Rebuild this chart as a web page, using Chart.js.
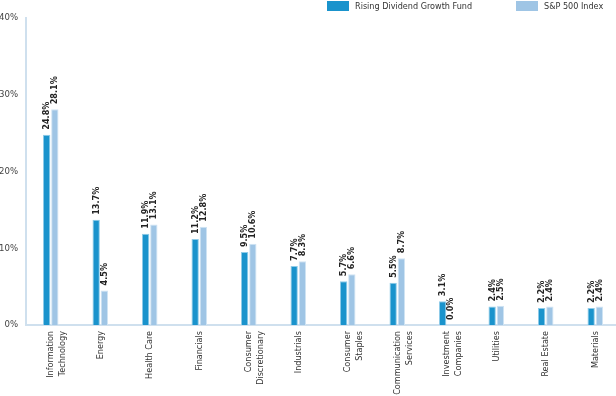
<!DOCTYPE html>
<html>
<head>
<meta charset="utf-8">
<script src="https://cdn.jsdelivr.net/npm/chart.js@4.4.1/dist/chart.umd.min.js"></script>
<style>
  html, body { margin: 0; padding: 0; background: #fff; }
  #wrap { width: 616px; height: 396px; overflow: hidden; }
</style>
</head>
<body>
<div id="wrap"><canvas id="sectorChart" width="620" height="396"></canvas></div>
<script>
const categories = [
  ["Information", "Technology"],
  "Energy",
  "Health Care",
  "Financials",
  ["Consumer", "Discretionary"],
  "Industrials",
  ["Consumer", "Staples"],
  ["Communication", "Services"],
  ["Investment", "Companies"],
  "Utilities",
  "Real Estate",
  "Materials",
];
const fundValues = [24.8, 13.7, 11.9, 11.2, 9.5, 7.7, 5.7, 5.5, 3.1, 2.4, 2.2, 2.2];
const indexValues = [28.1, 4.5, 13.1, 12.8, 10.6, 8.3, 6.6, 8.7, 0.0, 2.5, 2.4, 2.4];
const yTicks = [0, 10, 20, 30, 40];

const FONT = "'Liberation Sans Narrow', 'DejaVu Sans Condensed', 'Roboto', sans-serif";
const DARK = "#1a93cc";
const LIGHT = "#9fc5e5";
const AXIS = "#cfe0ee";

// draws rotated value labels above each bar
const valueLabels = {
  id: "valueLabels",
  afterDatasetsDraw(chart) {
    const ctx = chart.ctx;
    ctx.save();
    ctx.font = "bold 9px " + FONT;
    ctx.fillStyle = "#222";
    ctx.textAlign = "left";
    ctx.textBaseline = "middle";
    chart.data.datasets.forEach((ds, i) => {
      const meta = chart.getDatasetMeta(i);
      meta.data.forEach((bar, j) => {
        ctx.save();
        ctx.translate(bar.x, bar.y - 5);
        ctx.rotate(-Math.PI / 2);
        ctx.fillText(ds.data[j].toFixed(1) + "%", 0, 0);
        ctx.restore();
      });
    });
    ctx.restore();
  },
};

// simple legend in the top right corner
const topLegend = {
  id: "topLegend",
  afterDraw(chart) {
    const ctx = chart.ctx;
    const starts = [327, 516];
    ctx.save();
    ctx.font = "9px " + FONT;
    ctx.textBaseline = "middle";
    ctx.textAlign = "left";
    chart.data.datasets.forEach((ds, i) => {
      const x = starts[i];
      ctx.fillStyle = ds.backgroundColor;
      ctx.fillRect(x, 1, 22, 10);
      ctx.fillStyle = "#333";
      ctx.fillText(ds.label, x + 28, 6.5);
    });
    ctx.restore();
  },
};

const ctx = document.getElementById("sectorChart").getContext("2d");
new Chart(ctx, {
  type: "bar",
  data: {
    labels: categories,
    datasets: [
      {
        label: "Rising Dividend Growth Fund",
        data: fundValues,
        backgroundColor: DARK,
        borderColor: "#8fcbe8",
        borderWidth: 1,
        categoryPercentage: 0.33,
        barPercentage: 0.9,
      },
      {
        label: "S&P 500 Index",
        data: indexValues,
        backgroundColor: LIGHT,
        borderColor: "#cfe3f3",
        borderWidth: 1,
        categoryPercentage: 0.33,
        barPercentage: 0.9,
      },
    ],
  },
  options: {
    responsive: false,
    animation: false,
    devicePixelRatio: 1,
    layout: { padding: { top: 18, right: 0, bottom: 0, left: 0 } },
    scales: {
      x: {
        grid: { display: false, drawTicks: false },
        border: { color: AXIS, width: 2 },
        ticks: {
          minRotation: 90,
          maxRotation: 90,
          autoSkip: false,
          color: "#333",
          padding: 6,
          font: { family: FONT, size: 9, lineHeight: 1.35 },
        },
        afterFit(scale) { scale.height = 71; },
      },
      y: {
        min: 0,
        max: 40,
        grid: { display: false, drawTicks: false },
        border: { color: AXIS, width: 2 },
        afterBuildTicks(scale) { scale.ticks = yTicks.map((v) => ({ value: v })); },
        ticks: {
          color: "#444",
          padding: 8,
          font: { family: FONT, size: 9.5 },
          callback: (v) => v + "%",
        },
        afterFit(scale) { scale.width = 26; },
      },
    },
    plugins: {
      legend: { display: false },
      tooltip: { enabled: false },
    },
  },
  plugins: [valueLabels, topLegend],
});
</script>
</body>
</html>
